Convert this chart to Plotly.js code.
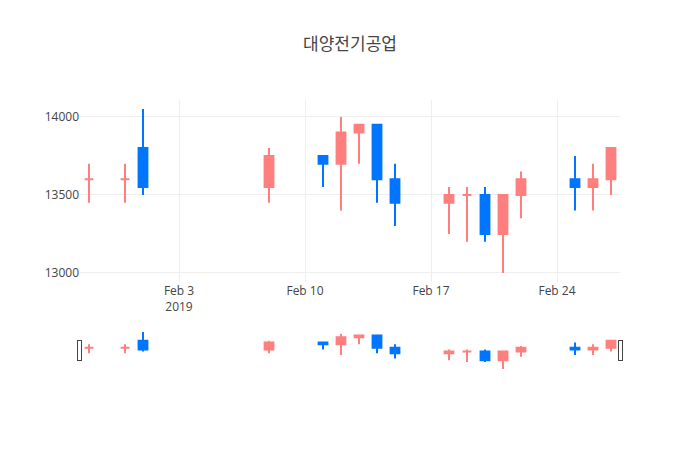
<!DOCTYPE html>
<html>
<head>
<meta charset="utf-8">
<script src="https://cdn.plot.ly/plotly-3.0.1.min.js"></script>
<style>html,body{margin:0;padding:0;background:#fff;}</style>
</head>
<body>
<div id="chart" style="width:700px;height:450px;"></div>
<script>
const dates = ['2019-01-29','2019-01-31','2019-02-01','2019-02-08','2019-02-11','2019-02-12','2019-02-13','2019-02-14','2019-02-15','2019-02-18','2019-02-19','2019-02-20','2019-02-21','2019-02-22','2019-02-25','2019-02-26','2019-02-27'];
const openVals  = [13600,13600,13800,13550,13750,13700,13900,13950,13600,13450,13500,13500,13250,13500,13600,13550,13600];
const highVals  = [13700,13700,14050,13800,13750,14000,13950,13950,13700,13550,13550,13550,13500,13650,13750,13700,13800];
const lowVals   = [13450,13450,13500,13450,13550,13400,13700,13450,13300,13250,13200,13200,13000,13350,13400,13400,13500];
const closeVals = [13600,13600,13550,13750,13700,13900,13950,13600,13450,13500,13500,13250,13500,13600,13550,13600,13800];

const trace = {
  type: 'candlestick',
  x: dates, open: openVals, high: highVals, low: lowVals, close: closeVals,
  increasing: {line: {color: '#FF7F7F'}, fillcolor: '#FF7F7F'},
  decreasing: {line: {color: '#0075FF'}, fillcolor: '#0075FF'}
};
const layout = {
  title: {text: '대양전기공업', font: {family: 'Open Sans, Noto Sans CJK KR, sans-serif', size: 17, color: '#444'}},
  font: {family: 'Open Sans, Noto Sans CJK KR, sans-serif'},
  showlegend: false,
  xaxis: {rangeslider: {visible: true}},
  yaxis: {tickformat: 'd'}
};
Plotly.newPlot('chart', [trace], layout, {displayModeBar: false});
</script>
</body>
</html>
